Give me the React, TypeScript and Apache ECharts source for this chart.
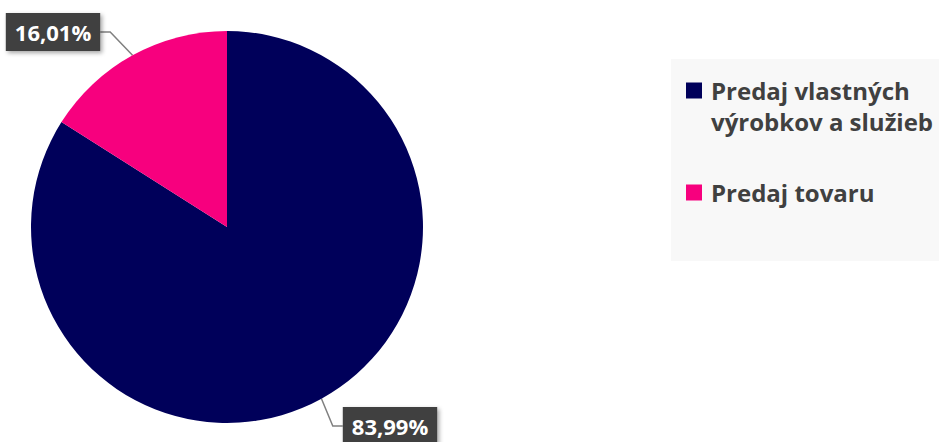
import React, { useEffect, useRef } from "react";
import * as echarts from "echarts";

const categories = ["Predaj vlastných\nvýrobkov a služieb", "Predaj tovaru"];
const shares = [83.99, 16.01];
const colors = ["#00005A", "#F7007E"];
const labelCenters = [
  [390, 426],
  [53, 32],
];

const FONT = "'Open Sans'";

export default function App() {
  const ref = useRef<HTMLDivElement>(null);
  useEffect(() => {
    if (!ref.current) return;
    const chart = echarts.init(ref.current, undefined, { renderer: "svg" });
    const tStyle = {
      fontFamily: FONT,
      fontWeight: "bold",
      fontSize: 24,
      lineHeight: 31,
      color: "#404040",
      padding: [0, 0, 0, 4],
    };
    chart.setOption({
      animation: false,
      backgroundColor: "#ffffff",
      graphic: [
        {
          type: "rect",
          left: 671,
          top: 59,
          z: -10,
          shape: { width: 268, height: 202 },
          style: { fill: "#f8f8f8" },
        },
      ],
      legend: {
        orient: "vertical",
        left: 686,
        top: 44,
        padding: 0,
        itemWidth: 16,
        itemHeight: 16,
        itemGap: 40,
        icon: "rect",
        selectedMode: false,
        textStyle: {
          fontFamily: FONT,
          fontWeight: "bold",
          fontSize: 24,
          lineHeight: 31,
          color: "#404040",
          rich: {
            e: { fontSize: 24, lineHeight: 31, fontFamily: FONT },
            t: tStyle,
          },
        },
        formatter: (name: string) => {
          const lines = name.split("\n").map((l) => "{t|" + l + "}");
          if (lines.length > 1) lines.unshift("{e| }");
          return lines.join("\n");
        },
        data: categories,
      },
      series: [
        {
          type: "pie",
          center: [227, 227],
          radius: 196,
          startAngle: 90,
          clockwise: true,
          data: categories.map((c, i) => ({
            name: c,
            value: shares[i],
            itemStyle: { color: colors[i] },
          })),
          label: {
            show: true,
            position: "outside",
            formatter: (p: any) => p.value.toFixed(2).replace(".", ",") + "%",
            color: "#ffffff",
            fontFamily: FONT,
            fontWeight: "bold",
            fontSize: 22,
            lineHeight: 24,
            backgroundColor: "#404040",
            padding: [8, 9, 6, 9],
            shadowBlur: 4,
            shadowColor: "rgba(0,0,0,0.35)",
            shadowOffsetX: 2,
            shadowOffsetY: 2,
          },
          labelLine: {
            show: true,
            length: 15,
            length2: 10,
            lineStyle: { color: "#808080", width: 1.5 },
          },
          labelLayout: (params: any) => {
            const p = labelCenters[params.dataIndex];
            return { x: p[0], y: p[1], align: "center", verticalAlign: "middle" };
          },
          emphasis: { disabled: true },
        },
      ],
    });
    return () => chart.dispose();
  }, []);
  return (
    <div
      ref={ref}
      style={{ position: "absolute", left: 0, top: 0, width: 939, height: 442 }}
    />
  );
}
